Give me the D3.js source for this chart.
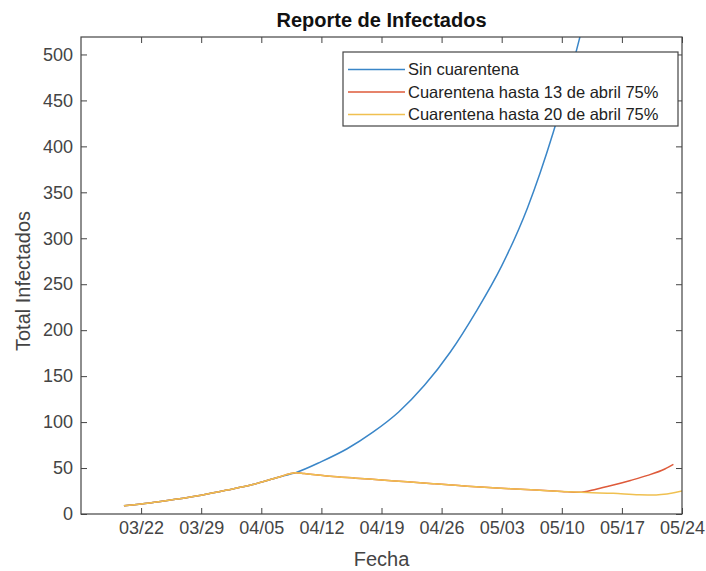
<!DOCTYPE html>
<html>
<head>
<meta charset="utf-8">
<script src="https://cdn.jsdelivr.net/npm/d3@7"></script>
<style>
  body { margin: 0; background: #fff; }
  text { font-family: 'Liberation Sans', Arial, Helvetica, sans-serif; }
</style>
</head>
<body>
<div id="chart"></div>
<script>
// fechas y valores
const fechasSin = ['2020-03-20', '2020-03-23', '2020-03-26', '2020-03-29', '2020-04-01', '2020-04-04',
  '2020-04-07', '2020-04-09', '2020-04-12', '2020-04-15', '2020-04-18', '2020-04-21', '2020-04-24',
  '2020-04-27', '2020-04-30', '2020-05-03', '2020-05-06', '2020-05-09', '2020-05-12', '2020-05-15']
const valoresSin = [9, 12, 16, 20.5, 26, 32, 40, 45, 57, 71, 89, 111, 140, 176, 220, 270, 333, 415, 515, 640]

const fechas13 = ['2020-03-20', '2020-03-23', '2020-03-26', '2020-03-29', '2020-04-01', '2020-04-04',
  '2020-04-07', '2020-04-09', '2020-04-10', '2020-04-13', '2020-04-16', '2020-04-19', '2020-04-22',
  '2020-04-25', '2020-04-28', '2020-05-01', '2020-05-04', '2020-05-07', '2020-05-10', '2020-05-12',
  '2020-05-14', '2020-05-16', '2020-05-18', '2020-05-20', '2020-05-22', '2020-05-23']
const valores13 = [9, 12, 16, 20.5, 26, 32, 40, 45, 44, 41, 39, 37, 35, 33, 31, 29, 27.5, 26, 24.5, 23.6,
  27, 31.5, 36.5, 42, 49, 54]

const fechas20 = ['2020-03-20', '2020-03-23', '2020-03-26', '2020-03-29', '2020-04-01', '2020-04-04',
  '2020-04-07', '2020-04-09', '2020-04-10', '2020-04-13', '2020-04-16', '2020-04-19', '2020-04-22',
  '2020-04-25', '2020-04-28', '2020-05-01', '2020-05-04', '2020-05-07', '2020-05-10', '2020-05-13',
  '2020-05-16', '2020-05-19', '2020-05-21', '2020-05-24']
const valores20 = [9, 12, 16, 20.5, 26, 32, 40, 45, 44, 41, 39, 37, 35, 33, 31, 29, 27.5, 26, 24.5, 23.3,
  22.5, 21, 20.8, 25]

const nombres = ['Sin cuarentena', 'Cuarentena hasta 13 de abril 75%', 'Cuarentena hasta 20 de abril 75%']
const colores = ['#3a86c8', '#de5a3a', '#f0c050']

const xTicks = ['2020-03-22', '2020-03-29', '2020-04-05', '2020-04-12', '2020-04-19', '2020-04-26',
  '2020-05-03', '2020-05-10', '2020-05-17', '2020-05-24']
const yTicks = [0, 50, 100, 150, 200, 250, 300, 350, 400, 450, 500]

const parse = d3.timeParse('%Y-%m-%d')

const width = 706
const height = 571
const box = { left: 81, right: 682, top: 37, bottom: 514 }

const svg = d3
  .select('#chart')
  .append('svg')
  .attr('width', width)
  .attr('height', height)

const x = d3
  .scaleTime()
  .domain([parse('2020-03-15'), parse('2020-05-24')])
  .range([box.left, box.right])

const y = d3
  .scaleLinear()
  .domain([0, 519])
  .range([box.bottom, box.top])

svg
  .append('clipPath')
  .attr('id', 'clip')
  .append('rect')
  .attr('x', box.left)
  .attr('y', box.top)
  .attr('width', box.right - box.left)
  .attr('height', box.bottom - box.top)

const series = [
  fechasSin.map((f, i) => ({ fecha: parse(f), valor: valoresSin[i] })),
  fechas13.map((f, i) => ({ fecha: parse(f), valor: valores13[i] })),
  fechas20.map((f, i) => ({ fecha: parse(f), valor: valores20[i] }))
]

const line = d3
  .line()
  .x(d => x(d.fecha))
  .y(d => y(d.valor))
  .curve(d3.curveMonotoneX)

svg
  .append('g')
  .attr('clip-path', 'url(#clip)')
  .selectAll('path')
  .data(series)
  .enter()
  .append('path')
  .attr('d', d => line(d))
  .attr('fill', 'none')
  .attr('stroke', (d, i) => colores[i])
  .attr('stroke-width', 1.5)
  .attr('stroke-linejoin', 'round')

// ejes (ticks hacia adentro, estilo matlab)
const xTickDates = xTicks.map(parse)

svg
  .append('g')
  .attr('class', 'x-axis')
  .attr('transform', 'translate(0,' + box.bottom + ')')
  .call(
    d3.axisBottom(x)
      .tickValues(xTickDates)
      .tickFormat(d3.timeFormat('%m/%d'))
      .tickSize(-6)
      .tickPadding(7)
  )

svg
  .append('g')
  .attr('class', 'x-axis-top')
  .attr('transform', 'translate(0,' + box.top + ')')
  .call(d3.axisTop(x).tickValues(xTickDates).tickSize(-6).tickFormat(''))

svg
  .append('g')
  .attr('class', 'y-axis')
  .attr('transform', 'translate(' + box.left + ',0)')
  .call(d3.axisLeft(y).tickValues(yTicks).tickSize(-6).tickPadding(8))

svg
  .append('g')
  .attr('class', 'y-axis-right')
  .attr('transform', 'translate(' + box.right + ',0)')
  .call(d3.axisRight(y).tickValues(yTicks).tickSize(-6).tickFormat(''))

svg.selectAll('.domain').remove()
svg.selectAll('.tick line').attr('stroke', '#444')
svg
  .selectAll('.x-axis text, .y-axis text')
  .attr('font-size', 18)
  .attr('fill', '#444')
  .style('font-family', "'Liberation Sans', Arial, sans-serif")

svg
  .append('rect')
  .attr('x', box.left)
  .attr('y', box.top)
  .attr('width', box.right - box.left)
  .attr('height', box.bottom - box.top)
  .attr('fill', 'none')
  .attr('stroke', '#444')
  .attr('stroke-width', 1.2)

// titulo y etiquetas
svg
  .append('text')
  .attr('x', (box.left + box.right) / 2)
  .attr('y', 27)
  .attr('text-anchor', 'middle')
  .attr('font-size', 20)
  .attr('font-weight', 'bold')
  .attr('fill', '#111')
  .text('Reporte de Infectados')

svg
  .append('text')
  .attr('x', (box.left + box.right) / 2)
  .attr('y', 566)
  .attr('text-anchor', 'middle')
  .attr('font-size', 20)
  .attr('fill', '#444')
  .text('Fecha')

svg
  .append('text')
  .attr('transform', 'translate(30,281) rotate(-90)')
  .attr('text-anchor', 'middle')
  .attr('font-size', 20)
  .attr('fill', '#444')
  .text('Total Infectados')

// leyenda
const legend = svg.append('g').attr('class', 'legend')

legend
  .append('rect')
  .attr('x', 343)
  .attr('y', 52)
  .attr('width', 335)
  .attr('height', 74)
  .attr('fill', '#fff')
  .attr('stroke', '#444')
  .attr('stroke-width', 1.2)

legend
  .selectAll('.legend-entry')
  .data(nombres)
  .enter()
  .append('g')
  .attr('class', 'legend-entry')
  .attr('transform', (d, i) => `translate(0,${69.5 + i * 22.5})`)
  .each(function(d, i) {
    let g = d3.select(this)
    g.append('line')
      .attr('x1', 348)
      .attr('x2', 405)
      .attr('y1', 0)
      .attr('y2', 0)
      .attr('stroke', colores[i])
      .attr('stroke-width', 1.5)
    g.append('text')
      .attr('x', 408)
      .attr('y', 0)
      .attr('dy', '0.35em')
      .attr('font-size', 16.5)
      .attr('fill', '#222')
      .text(d)
  })
</script>
</body>
</html>
